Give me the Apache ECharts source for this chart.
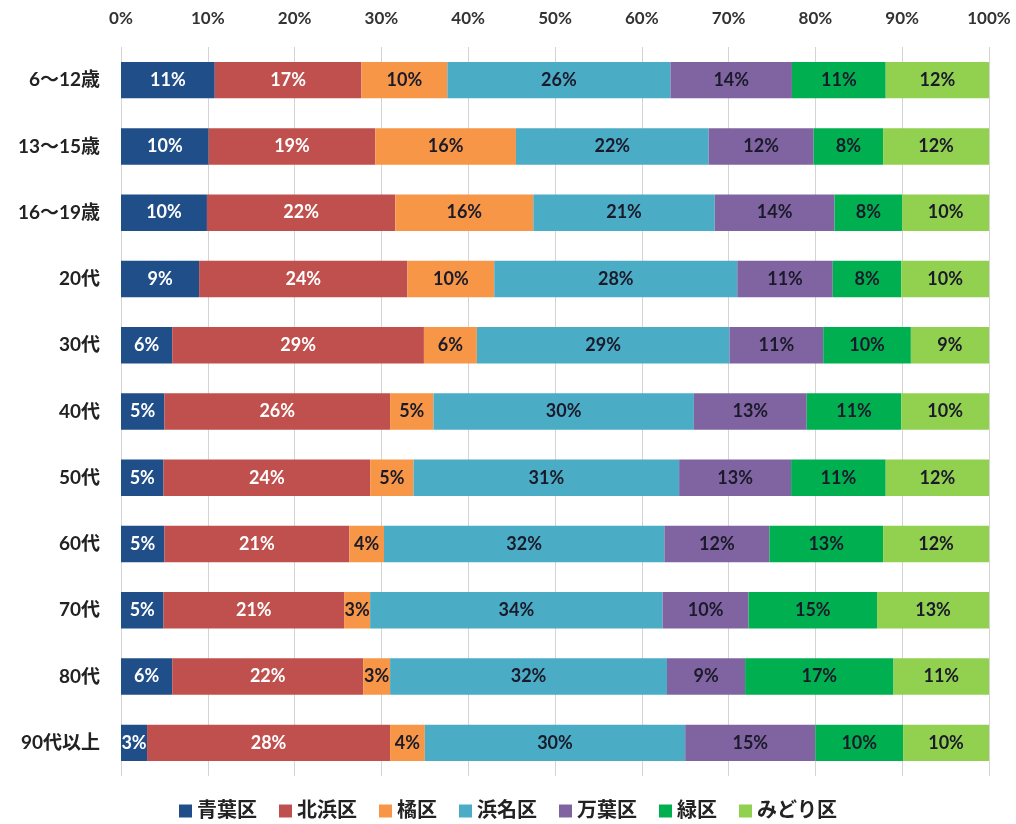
<!DOCTYPE html>
<html><head><meta charset="utf-8">
<script src="https://cdn.jsdelivr.net/npm/echarts@6/dist/echarts.min.js"></script>
<style>html,body{margin:0;padding:0;background:#fff}#c{width:1016px;height:824px}</style>
</head><body><div id="c"></div>
<script>
const categories = ['6～12歳','13～15歳','16～19歳','20代','30代','40代','50代','60代','70代','80代','90代以上'];
const seriesNames = ['青葉区','北浜区','橘区','浜名区','万葉区','緑区','みどり区'];
const tickLabels = ['0%','10%','20%','30%','40%','50%','60%','70%','80%','90%','100%'];
const aoba    = [10.8, 10.1,  9.9,  9.0,  5.9,  5.0,  4.9,  5.0,  4.9,  5.9,  3.0];
const kitahama= [16.9, 19.2, 21.7, 24.0, 29.0, 26.0, 23.8, 21.3, 20.8, 22.0, 28.0];
const tachibana=[ 9.9, 16.2, 15.9, 10.0,  6.1,  5.0,  5.0,  4.0,  3.0,  3.1,  4.0];
const hamana  = [25.7, 22.2, 20.9, 28.0, 29.1, 30.0, 30.6, 32.3, 33.7, 31.9, 30.0];
const manyo   = [14.0, 12.1, 13.8, 11.0, 10.8, 13.0, 12.9, 12.1,  9.9,  9.0, 15.0];
const midori1 = [10.8,  8.0,  7.8,  7.9, 10.1, 10.9, 10.9, 13.1, 14.8, 17.1, 10.1];
const midori2 = [11.9, 12.2, 10.0, 10.1,  9.0, 10.1, 11.9, 12.2, 12.9, 11.0,  9.9];
const values = [aoba, kitahama, tachibana, hamana, manyo, midori1, midori2];
const colors = ['#1F4E89','#C0504D','#F79646','#4BACC6','#8064A2','#00B050','#92D050'];
const labelColors = ['#ffffff','#ffffff','#1a1a2a','#1a1a2a','#1a1a2a','#1a1a2a','#1a1a2a'];

const FONT = 'Lato, "Noto Sans CJK JP", sans-serif';
const chart = echarts.init(document.getElementById('c'), null, {renderer:'canvas'});
chart.setOption({
  animation:false,
  backgroundColor:'#fff',
  grid:{left:121, right:27, top:47, bottom:48, containLabel:false},
  legend:{
    bottom:-2, left:'center', itemWidth:13, itemHeight:13, itemGap:22,
    icon:'rect',
    textStyle:{fontFamily:FONT, fontWeight:'bold', fontSize:20, color:'#222'},
    data:seriesNames
  },
  xAxis:{
    type:'value', position:'top', min:0, max:100, interval:10,
    axisLine:{show:false}, axisTick:{show:false},
    axisLabel:{formatter:(v)=>tickLabels[Math.round(v/10)], fontFamily:FONT, fontWeight:'bold', fontSize:17, color:'#333', margin:20},
    splitLine:{lineStyle:{color:'#d4d4d4', width:1}}
  },
  yAxis:{
    type:'category', data:categories, inverse:true,
    axisLine:{show:false}, axisTick:{show:false},
    axisLabel:{fontFamily:FONT, fontWeight:'bold', fontSize:19, color:'#222', margin:21}
  },
  series: seriesNames.map((n,i)=>({
    name:n, type:'bar', stack:'total', data:values[i],
    barCategoryGap:'45%',
    itemStyle:{color:colors[i]},
    label:{show:true, position:'inside', formatter:(p)=>Math.round(p.value)+'%',
      fontFamily:FONT, fontWeight:'bold', fontSize:18, color:labelColors[i]}
  }))
});
</script></body></html>
